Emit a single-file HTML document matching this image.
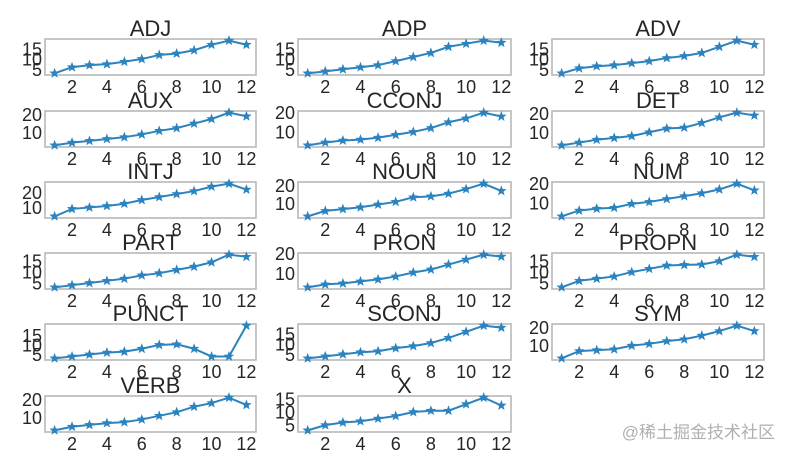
<!DOCTYPE html>
<html><head><meta charset="utf-8"><style>
html,body{margin:0;padding:0;background:#fff;width:788px;height:456px;overflow:hidden}
svg{display:block}
text{font-family:"Liberation Sans","DejaVu Sans",sans-serif;fill:#262626}
</style></head><body>
<svg id="chart" width="788" height="456" viewBox="0 0 788 456" xmlns="http://www.w3.org/2000/svg"></svg>
<script>
const xValues = [1,2,3,4,5,6,7,8,9,10,11,12];
const xTickLabels = [2,4,6,8,10,12];
const panelNames = ["ADJ","ADP","ADV","AUX","CCONJ","DET","INTJ","NOUN","NUM","PART","PRON","PROPN","PUNCT","SCONJ","SYM","VERB","X"];
const seriesADJ = [3,6,7,7.5,8.7,10,12,12.7,14.3,17,19,17];
const seriesADP = [3,4,5,6,7,9,11,13,16,17.5,19,18];
const seriesADV = [3,5.5,6.5,7,8,9,10.5,11.5,13,16,19,17];
const seriesAUX = [3,4.5,5.5,6.5,7.5,9,11,12.5,15,17.5,21,19];
const seriesCCONJ = [3,4.5,5.5,6,7,8.5,10,12,15,17,20,18];
const seriesDET = [3,4.5,6,7,8,10,12,12.5,15,18,20.5,19];
const seriesINTJ = [4,9,10,11,12.5,15,17,19,21,24,26,22];
const seriesNOUN = [3,6,7,8,9.5,11,13.5,14,15.5,18,21,17];
const seriesNUM = [3,6,7,7.5,9.5,10.5,12,13.5,15,17,20,16.5];
const seriesPART = [3,4,5,6,7,8.5,9.5,11,12.5,14.5,18,17];
const seriesPRON = [3,4.5,5,6,7,8.5,10.5,12,14.5,17,19.5,18.5];
const seriesPROPN = [3,6,7,8,10,11.5,13,13.3,13.5,15,18,17];
const seriesPUNCT = [3,4,5,6,6.5,8,10,10.3,8,4,4,20];
const seriesSCONJ = [3,4,5,6,6.5,8,9,10.5,13,16,19,18];
const seriesSYM = [3,7,7.5,8,10,11,12.5,13.5,15.5,18,21,18];
const seriesVERB = [3,5,6,7,7.5,9,11,13,16,18,21,17];
const seriesX = [3,5,6,6.5,7.5,8.5,10,10.5,10.5,13,15.5,12.5];
const allSeries = [seriesADJ,seriesADP,seriesADV,seriesAUX,seriesCCONJ,seriesDET,seriesINTJ,seriesNOUN,seriesNUM,seriesPART,seriesPRON,seriesPROPN,seriesPUNCT,seriesSCONJ,seriesSYM,seriesVERB,seriesX];
const yTicksSmall = [5,10,15];
const yTicksLarge = [10,20];
const useLargeTicks = [false,false,false,true,true,true,true,true,true,false,true,false,false,false,true,true,false];

const NS="http://www.w3.org/2000/svg";
const svg=document.getElementById('chart');
function mk(tag,attrs,parent){const e=document.createElementNS(NS,tag);for(const k in attrs)e.setAttribute(k,attrs[k]);(parent||svg).appendChild(e);return e;}
const colLeft=[45,298,552], colW=[211,213,212];
const rowTop=[39,111,182,253,324,396], boxH=36;
function star(cx,cy,r){let p=[];for(let i=0;i<10;i++){const a=-Math.PI/2+i*Math.PI/5;const rr=i%2?r*0.42:r;p.push((cx+rr*Math.cos(a)).toFixed(2)+','+(cy+rr*Math.sin(a)).toFixed(2));}return p.join(' ');}
panelNames.forEach((name,i)=>{
  const col=i%3,row=Math.floor(i/3);
  const L=colLeft[col],W=colW[col],T=rowTop[row];
  const data=allSeries[i];
  const g=mk('g',{});
  
  
  const mn=Math.min(...data),mx=Math.max(...data),pad=(mx-mn)*0.05;
  const y0=mn-pad,y1=mx+pad;
  const x0=0.45,x1=12.55;
  const sx=v=>L+(v-x0)/(x1-x0)*W;
  const sy=v=>T+boxH-(v-y0)/(y1-y0)*boxH;
  const t=mk('text',{x:L+W/2,y:T-3,'text-anchor':'middle','font-size':'22'},g);
  t.textContent=name;
  
  
  const fr=mk('rect',{x:L,y:T,width:W,height:boxH,fill:'none',stroke:'#b8b8b8','stroke-width':'1.6'},g);
  
  
  xTickLabels.forEach(v=>{
    const tx=mk('text',{x:sx(v),y:T+boxH+18,'text-anchor':'middle','font-size':'18'},g);
    tx.textContent=v;
    
    
  });
  const ticks=useLargeTicks[i]?yTicksLarge:yTicksSmall;
  ticks.forEach(v=>{
    if(v<y0||v>y1)return;
    const ty=mk('text',{x:L-3,y:sy(v)+6.5,'text-anchor':'end','font-size':'18'},g);
    ty.textContent=v;
    
    
  });
  const pts=data.map((v,k)=>sx(xValues[k]).toFixed(2)+','+sy(v).toFixed(2)).join(' ');
  const ln=mk('polyline',{points:pts,fill:'none',stroke:'#2b83bf','stroke-width':'2'},g);
  
  
  data.forEach((v,k)=>{
    const m=mk('polygon',{points:star(sx(xValues[k]),sy(v),5.5),fill:'#2b83bf'},g);
    
    
  });
});
const wm=mk('text',{x:775,y:438,'text-anchor':'end','font-size':'17',style:'fill:#b0b0b0;font-family:"Liberation Sans","Noto Sans CJK SC",sans-serif'});
wm.textContent='@稀土掘金技术社区';


</script>
</body></html>
